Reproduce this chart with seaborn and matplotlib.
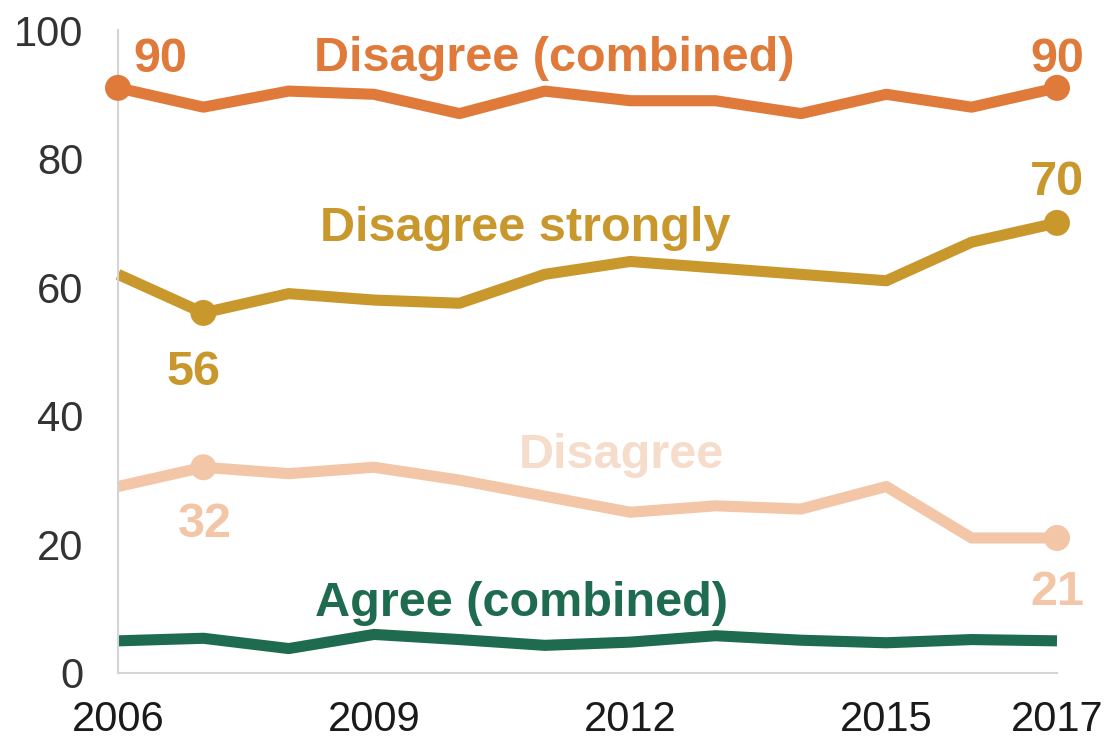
import matplotlib
matplotlib.use("Agg")
import matplotlib.pyplot as plt
import seaborn as sns
import pandas as pd

years = list(range(2006, 2018))
disagree_combined = [91, 88, 90.5, 90, 87, 90.5, 89, 89, 87, 90, 88, 91]
disagree_strongly = [62, 56, 59, 58, 57.5, 62, 64, 63, 62, 61, 67, 70]
disagree = [29, 32, 31, 32, 30, 27.5, 25, 26, 25.5, 29, 21, 21]
agree_combined = [5, 5.4, 3.8, 6, 5.2, 4.3, 4.8, 5.8, 5.1, 4.7, 5.2, 5]

series_names = ["Disagree (combined)", "Disagree strongly", "Disagree", "Agree (combined)"]
colors = ["#E07A3A", "#C9982D", "#F3C6A8", "#1E6B50"]
label_colors = ["#E07A3A", "#C9982D", "#F6DCCB", "#1E6B50"]

xticks_labeled = [2006, 2009, 2012, 2015, 2017]

sns.set_theme(style="white")
plt.rcParams["font.family"] = ["Liberation Sans", "DejaVu Sans"]

df = pd.DataFrame({
    "year": years * 4,
    "value": disagree_combined + disagree_strongly + disagree + agree_combined,
    "series": sum([[n] * len(years) for n in series_names], []),
})

fig = plt.figure(figsize=(11.04, 7.45), dpi=100)
ax = fig.add_axes([118 / 1104, 1 - 673 / 745, (1057 - 118) / 1104, (673 - 30) / 745])

pal = dict(zip(series_names, colors))
sns.lineplot(data=df, x="year", y="value", hue="series", palette=pal, linewidth=8,
             legend=False, ax=ax, clip_on=False, solid_joinstyle="round", solid_capstyle="butt")

marks = pd.DataFrame({
    "year": [2006, 2017, 2007, 2017, 2007, 2017],
    "value": [disagree_combined[0], disagree_combined[-1], disagree_strongly[1],
              disagree_strongly[-1], disagree[1], disagree[-1]],
    "series": ["Disagree (combined)", "Disagree (combined)", "Disagree strongly",
               "Disagree strongly", "Disagree", "Disagree"],
})
sns.scatterplot(data=marks, x="year", y="value", hue="series", palette=pal, s=350,
                edgecolor="none", legend=False, ax=ax, clip_on=False, zorder=5)

ax.set_xlim(2006, 2017)
ax.set_ylim(0, 100)
ax.set_xlabel("")
ax.set_ylabel("")
ax.set_xticks(years)
ax.set_xticklabels([str(y) if y in xticks_labeled else "" for y in years],
                   fontsize=30, color="#1a1a1a")
ax.set_yticks(range(0, 101, 10))
ax.set_yticklabels([str(v) if v % 20 == 0 else "" for v in range(0, 101, 10)],
                   fontsize=30, color="#333333")
ax.tick_params(axis="both", which="both", direction="out", length=7.2, width=1.2,
               color="#D4D4D4")
ax.tick_params(axis="x", pad=12)
ax.tick_params(axis="y", pad=17.5)
for s in ["top", "right"]:
    ax.spines[s].set_visible(False)
for s in ["left", "bottom"]:
    ax.spines[s].set_color("#D4D4D4")
    ax.spines[s].set_linewidth(1.5)
ax.grid(False)

tkw = dict(fontweight="bold", fontsize=35, ha="center", va="baseline")
ax.text(2011.11, 93.6, "Disagree (combined)", color=label_colors[0], **tkw)
ax.text(2010.77, 67.2, "Disagree strongly", color=label_colors[1], **tkw)
ax.text(2011.9, 31.9, "Disagree", color=label_colors[2], **tkw)
ax.text(2010.73, 8.9, "Agree (combined)", color=label_colors[3], **tkw)
ax.text(2006.49, 93.5, "90", color=colors[0], **tkw)
ax.text(2017.0, 93.5, "90", color=colors[0], **tkw)
ax.text(2017.0, 74.3, "70", color=colors[1], **tkw)
ax.text(2006.88, 44.8, "56", color=colors[1], **tkw)
ax.text(2007.02, 21.2, "32", color=colors[2], **tkw)
ax.text(2017.0, 10.6, "21", color=colors[2], **tkw)

fig.savefig("out.png", dpi=100)
